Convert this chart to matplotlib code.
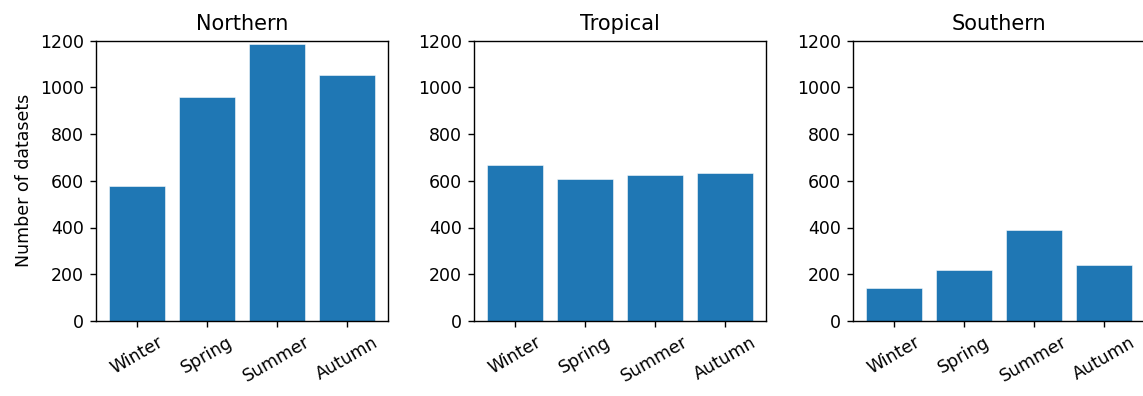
import matplotlib
matplotlib.use("Agg")
import matplotlib.pyplot as plt

seasons = ["Winter", "Spring", "Summer", "Autumn"]
regions = ["Northern", "Tropical", "Southern"]
northern = [577, 959, 1186, 1052]
tropical = [668, 607, 624, 633]
southern = [141, 219, 389, 238]
counts = [northern, tropical, southern]

# original looks like a default-style figure saved at 125 dpi
fig = plt.figure(figsize=(1143 / 125, 396 / 125), dpi=125)

lefts = [96, 474, 853]
for i in range(3):
	ax = fig.add_axes([lefts[i] / 1143, 1 - 321 / 396, 292 / 1143, 280.5 / 396])
	ax.bar(seasons, counts[i], color="#1f77b4", edgecolor="white", linewidth=0.3)
	ax.set_ylim(0, 1200)
	ax.set_yticks([0, 200, 400, 600, 800, 1000, 1200])
	ax.set_title(regions[i], fontsize=12)
	ax.tick_params(axis="x", labelrotation=30)
	if i == 0:
		ax.set_ylabel("Number of datasets")

plt.savefig("out.png", dpi=125)
